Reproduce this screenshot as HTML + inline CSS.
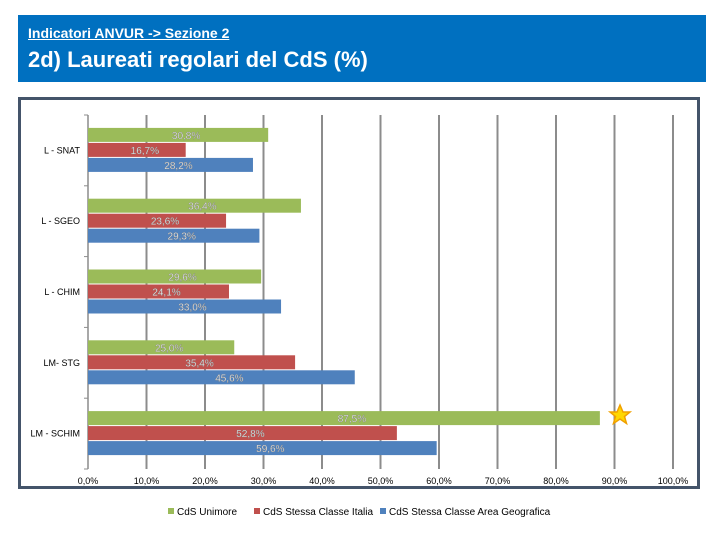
<!DOCTYPE html>
<html><head><meta charset="utf-8"><style>
body{margin:0;width:720px;height:540px;background:#fff;overflow:hidden;font-family:"Liberation Sans",sans-serif;position:relative}
#hdr{position:absolute;left:18px;top:15px;width:688px;height:67px;background:#0070c0;color:#fff}
#sub{position:absolute;left:10px;top:10px;font-size:14px;font-weight:bold;text-decoration:underline}
#ttl{position:absolute;left:10px;top:32px;font-size:22px;font-weight:bold}
#box{position:absolute;left:18px;top:97px;width:682px;height:392px;border:3px solid #44546a;box-sizing:border-box}
svg{position:absolute;left:0;top:0}
</style></head><body>
<div id="hdr">
<div id="sub">Indicatori ANVUR -&gt; Sezione 2</div>
<div id="ttl">2d) Laureati regolari del CdS (%)</div>
</div>
<div id="box"></div>
<svg id="c" width="720" height="540"></svg>
<script>
const categories=["L - SNAT","L - SGEO","L - CHIM","LM- STG","LM - SCHIM"];
const unimore=[30.8,36.4,29.6,25.0,87.5];
const italia=[16.7,23.6,24.1,35.4,52.8];
const area=[28.2,29.3,33.0,45.6,59.6];
const ticks=[0,10,20,30,40,50,60,70,80,90,100];
const seriesNames=["CdS Unimore","CdS Stessa Classe Italia","CdS Stessa Classe Area Geografica"];
const colors=["#9bbb59","#c0504d","#4f81bd"];
const NS="http://www.w3.org/2000/svg";
const svg=document.getElementById('c');
const x0=88,x1=673,yTop=115,yBot=469;
const xs=v=>x0+(v/100)*(x1-x0);
const band=(yBot-yTop)/categories.length;
function mk(t,a,p){const e=document.createElementNS(NS,t);for(const k in a)e.setAttribute(k,a[k]);(p||svg).appendChild(e);return e;}
ticks.forEach((t,i)=>{
 if(i>0){const g=mk('line',{x1:xs(t),x2:xs(t),y1:yTop,y2:yBot,stroke:'#8c8c8c','stroke-width':2});
 
 }
 const l=mk('text',{x:xs(t),y:yBot+15,'text-anchor':'middle','font-size':9,fill:'#000'});
 l.textContent=t.toFixed(1).replace('.',',')+'%';
 
 
});
const ax=mk('line',{x1:x0,x2:x0,y1:yTop,y2:yBot,stroke:'#8c8c8c','stroke-width':1.5});


for(let i=0;i<=categories.length;i++){const tk=mk('line',{x1:x0-4,x2:x0,y1:yTop+i*band,y2:yTop+i*band,stroke:'#8c8c8c'});
 
 }
const series=[unimore,italia,area];
categories.forEach((c,i)=>{
 const cy=yTop+band*(i+0.5);
 const lb=mk('text',{x:80,y:cy+3,'text-anchor':'end','font-size':9,fill:'#000'});
 lb.textContent=c;
 
 
 series.forEach((s,j)=>{
  const bh=15,by=cy-22.5+j*bh;
  const r=mk('rect',{x:x0,y:by,width:xs(s[i])-x0,height:bh-1,fill:colors[j]});
  
  
  const t=mk('text',{x:(x0+xs(s[i]))/2+8,y:by+11,'text-anchor':'middle','font-size':10,fill:'#fff',stroke:'#777','stroke-width':0.3});
  t.textContent=s[i].toFixed(1).replace('.',',')+'%';
  
  
 });
});
const st=mk('polygon',{points:"620,405 623,412 630,412 624.5,416.5 626.5,423.5 620,419 613.5,423.5 615.5,416.5 610,412 617,412",fill:'#ffd700',stroke:'#f0a000','stroke-width':1.5});


const lx=[168,254,380];
seriesNames.forEach((n,j)=>{
 const sw=mk('rect',{x:lx[j],y:508,width:6,height:6,fill:colors[j]});
 
 
 const t=mk('text',{x:lx[j]+9,y:515,'font-size':10,fill:'#000'});
 t.textContent=n;
 
 
});
</script>
</body></html>
